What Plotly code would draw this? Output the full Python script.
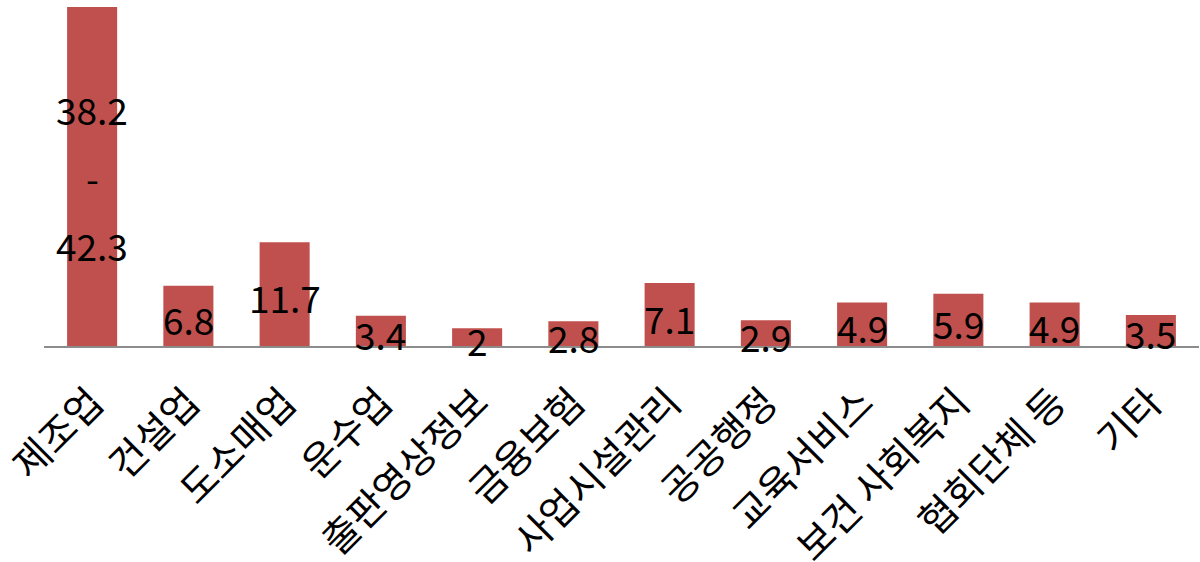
import plotly.graph_objects as go

# Share by industry (%), first industry given as a range
categories = ["제조업", "건설업", "도소매업", "운수업", "출판영상정보", "금융보험",
              "사업시설관리", "공공행정", "교육서비스", "보건 사회복지", "협회단체 등", "기타"]
values = [38.2, 6.8, 11.7, 3.4, 2.0, 2.8, 7.1, 2.9, 4.9, 5.9, 4.9, 3.5]
value_labels = [["38.2", "-", "42.3"], ["6.8"], ["11.7"], ["3.4"], ["2"], ["2.8"],
                ["7.1"], ["2.9"], ["4.9"], ["5.9"], ["4.9"], ["3.5"]]

BAR_COLOR = "#C0504D"
FONT = "Noto Sans CJK KR"

fig = go.Figure(go.Bar(
    x=categories,
    y=values,
    marker=dict(color=BAR_COLOR, line=dict(width=0)),
    hoverinfo="skip",
))

# value labels sit in the middle of each bar; multi-part labels are stacked
annotations = []
line_gap = 68
for cat, v, parts in zip(categories, values, value_labels):
    n = len(parts)
    for i, part in enumerate(parts):
        annotations.append(dict(
            x=cat, y=v / 2, xref="x", yref="y",
            text=part, showarrow=False,
            yanchor="middle", xanchor="center",
            yshift=((n - 1) / 2 - i) * line_gap - 3 + (3 if n > 1 else 0),
            font=dict(family=FONT, size=37, color="black"),
        ))

fig.update_layout(
    width=1200, height=562,
    margin=dict(l=44, r=1, t=0, b=216),
    paper_bgcolor="white", plot_bgcolor="white",
    bargap=0.48,
    showlegend=False,
    annotations=annotations,
    xaxis=dict(
        tickangle=-45,
        tickfont=dict(family=FONT, size=39, color="black"),
        ticklabelstandoff=16,
        showline=True, linecolor="#8C8C8C", linewidth=2,
        showgrid=False, ticks="", automargin=False,
    ),
    yaxis=dict(
        range=[0, 39.0], visible=False, showgrid=False, zeroline=False,
        automargin=False,
    ),
)

fig.write_html("out.html")
